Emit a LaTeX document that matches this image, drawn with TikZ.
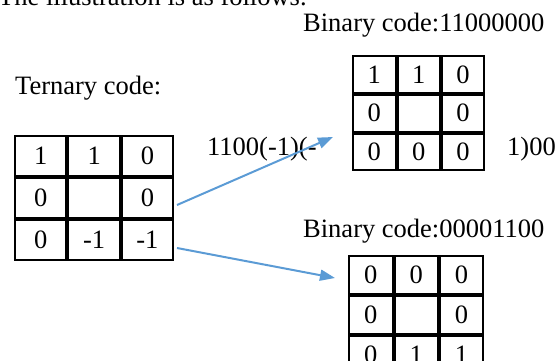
\documentclass[tikz,border=0pt]{standalone}
\usepackage{fontspec}
\setmainfont{Liberation Serif}
\usetikzlibrary{arrows.meta,matrix}
\definecolor{arrowblue}{RGB}{91,155,213}

\tikzset{
  bodyfont/.style={font=\fontsize{26.5}{31}\selectfont},
  txt/.style={bodyfont, inner sep=0pt, anchor=base west},
  codegrid/.style 2 args={matrix of nodes, nodes in empty cells,
    inner sep=0pt, column sep=0pt, row sep=0pt, anchor=north west,
    nodes={draw, line width=2pt, inner sep=0pt, anchor=center, bodyfont,
      minimum width=#1, minimum height=#2}},
  link/.style={draw=arrowblue, line width=2pt,
    -{Triangle[length=15pt,width=11pt]}},
}

\begin{document}
\begin{tikzpicture}[x=1pt,y=-1pt]
  \useasboundingbox (0,0) rectangle (557,361);
  \clip (0,0) rectangle (557,361);

  % captions
  \node[txt] (intro)   at (-2,6)   {The illustration is as follows.};
  \node[txt] (tlabel)  at (15,95)  {Ternary code:};
  \node[txt] (blabel1) at (303,32) {Binary code:11000000};
  \node[txt] (blabel2) at (303,237) {Binary code:00001100};
  \node[txt] (seqa)    at (207,155) {1100(-1)(-};
  \node[txt] (seqb)    at (507,155) {1)00};

  % ternary pattern
  \matrix (tern) [codegrid={51.3pt}{40pt}] at (14,135) {
    1 & 1  & 0  \\
    0 &    & 0  \\
    0 & -1 & -1 \\
  };

  % upper binary pattern
  \matrix (bin1) [codegrid={42.3pt}{36.7pt}] at (352,55) {
    1 & 1 & 0 \\
    0 &   & 0 \\
    0 & 0 & 0 \\
  };

  % lower binary pattern
  \matrix (bin2) [codegrid={43.3pt}{38pt}] at (348,255) {
    0 & 0 & 0 \\
    0 &   & 0 \\
    0 & 1 & 1 \\
  };

  % split arrows
  \coordinate (up-start)   at (177,205);
  \coordinate (up-end)     at (333,137);
  \coordinate (down-start) at (177,248);
  \coordinate (down-end)   at (335,278);
  \draw[link] (up-start) -- (up-end);
  \draw[link] (down-start) -- (down-end);
\end{tikzpicture}
\end{document}
